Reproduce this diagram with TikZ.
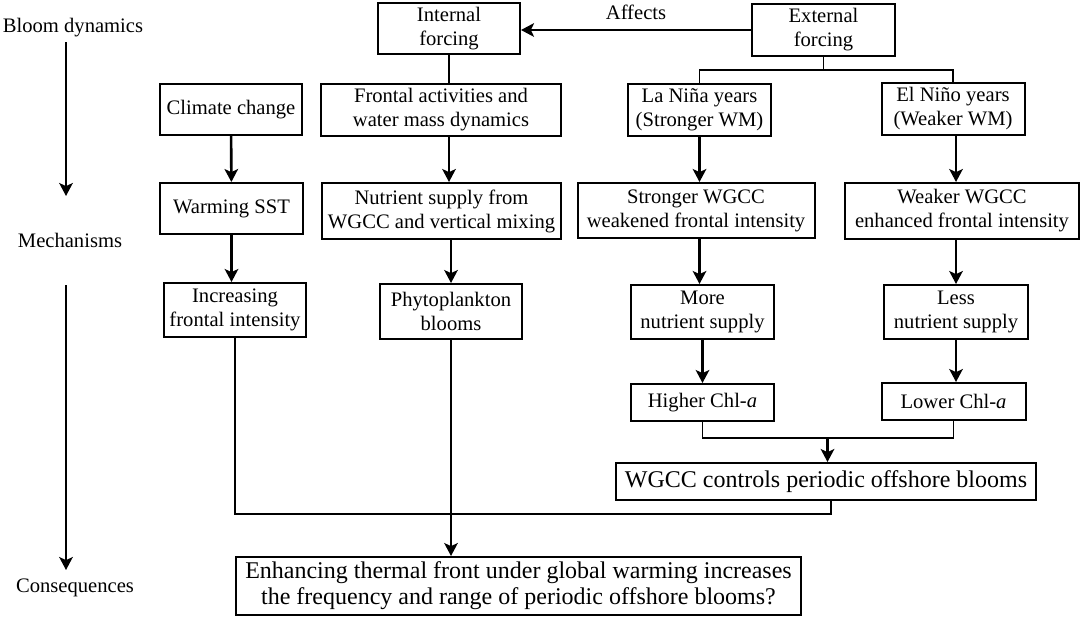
\documentclass[tikz,border=0pt]{standalone}
\usepackage{fontspec}
\setmainfont{Liberation Serif}
\usetikzlibrary{arrows.meta}
\tikzset{
  box/.style={draw,line width=1pt,align=center,inner sep=1pt,font=\fontsize{10.3}{12}\selectfont},
  bigbox/.style={box,font=\fontsize{12}{13}\selectfont},
  lbl/.style={font=\fontsize{10.3}{12}\selectfont},
  arr/.style={-{Stealth[length=6.5pt,width=6.8pt,inset=1.6pt]},line width=1.3pt},
  link/.style={line width=0.8pt}
}
\begin{document}
\begin{tikzpicture}[x=0.5pt,y=-0.5pt]
\useasboundingbox (0,0) rectangle (1080,616);
% stage labels on the left
\node[lbl] (bd) at (73,28) {Bloom dynamics};
\node[lbl] (mech) at (70,240) {Mechanisms};
\node[lbl] (cons) at (75,588) {Consequences};
\coordinate (ax1) at (66,42);
\coordinate (ax2) at (66,196);
\coordinate (ax3) at (66,285);
\coordinate (ax4) at (66,570);
\draw[arr] (ax1)--(ax2);
\draw[arr] (ax3)--(ax4);
% forcing boxes
\node[box,minimum width=71pt,minimum height=25.5pt] (inf) at (449,28.5) {Internal\\forcing};
\node[box,minimum width=71.5pt,minimum height=26pt] (exf) at (823.5,30) {External\\forcing};
\node[box,minimum width=71pt,minimum height=25.5pt] (cc) at (231,109.5) {Climate change};
\node[box,minimum width=120pt,minimum height=26pt] (fa) at (441,110) {Frontal activities and\\water mass dynamics};
\node[box,minimum width=71.5pt,minimum height=26pt] (la) at (699.5,110) {La Niña years\\(Stronger WM)};
\node[box,minimum width=71.5pt,minimum height=26pt] (el) at (953,109) {El Niño years\\(Weaker WM)};
% mechanisms
\node[box,minimum width=71.5pt,minimum height=25.5pt] (ws) at (231.5,208.5) {Warming SST};
\node[box,minimum width=119.5pt,minimum height=28pt] (ns) at (441.5,211) {Nutrient supply from\\WGCC and vertical mixing};
\node[box,minimum width=118.5pt,minimum height=27.5pt] (sw) at (696,210.5) {Stronger WGCC\\weakened frontal intensity};
\node[box,minimum width=117pt,minimum height=28pt] (ww) at (962,211) {Weaker WGCC\\enhanced frontal intensity};
\node[box,minimum width=71pt,minimum height=27pt] (inc) at (235,310) {Increasing\\frontal intensity};
\node[box,minimum width=71pt,minimum height=27.5pt] (phy) at (451,311.5) {Phytoplankton\\blooms};
\node[box,minimum width=71.5pt,minimum height=27pt] (mn) at (702.5,312) {More\\nutrient supply};
\node[box,minimum width=72pt,minimum height=27pt] (ln) at (956,312) {Less\\nutrient supply};
\node[box,minimum width=71.5pt,minimum height=18.5pt] (hc) at (702.5,402.5) {Higher Chl-\textit{a}};
\node[box,minimum width=72pt,minimum height=18.5pt] (lc) at (953.5,401.5) {Lower Chl-\textit{a}};
\node[bigbox,minimum width=210pt,minimum height=18.5pt] (wc) at (826,481.5) {WGCC controls periodic offshore blooms};
\node[bigbox,minimum width=282.5pt,minimum height=29pt] (csq) at (518.5,586) {Enhancing thermal front under global warming increases\\the frequency and range of periodic offshore blooms?};
% connectors
\draw[arr] (exf.west)--(exf.west -| inf.east) node[lbl,midway,above=1pt] {Affects};
\draw[link] (exf.south)--++(0,13) coordinate (br);
\draw[link] (la.north) |- (br) -| (el.north);
\draw[link] (inf.south)--(inf.south |- fa.north);
\draw[arr] (cc)--(ws);
\draw[arr] (ws.south)--(ws.south |- inc.north);
\draw[arr] (fa.south -| inf)--(ns.north -| inf);
\draw[arr] (ns.south -| phy)--(phy.north);
\draw[arr] (la.south)--(la.south |- sw.north);
\draw[arr] (sw.south -| la)--(mn.north -| la);
\draw[arr] (mn)--(hc);
\draw[arr] (el.south -| ln)--(ww.north -| ln);
\draw[arr] (ww.south -| ln)--(ln.north);
\draw[arr] (ln.south)--(ln.south |- lc.north);
\coordinate (jn) at (827.5,438);
\draw[link] (hc.south) |- (jn) -| (lc.south);
\draw[arr] (jn)--(jn |- wc.north);
\coordinate (jb) at (831,514);
\draw[link] (inc.south) |- (jb)--(jb |- wc.south);
\draw[arr] (phy.south)--(phy.south |- csq.north);
\end{tikzpicture}
\end{document}
